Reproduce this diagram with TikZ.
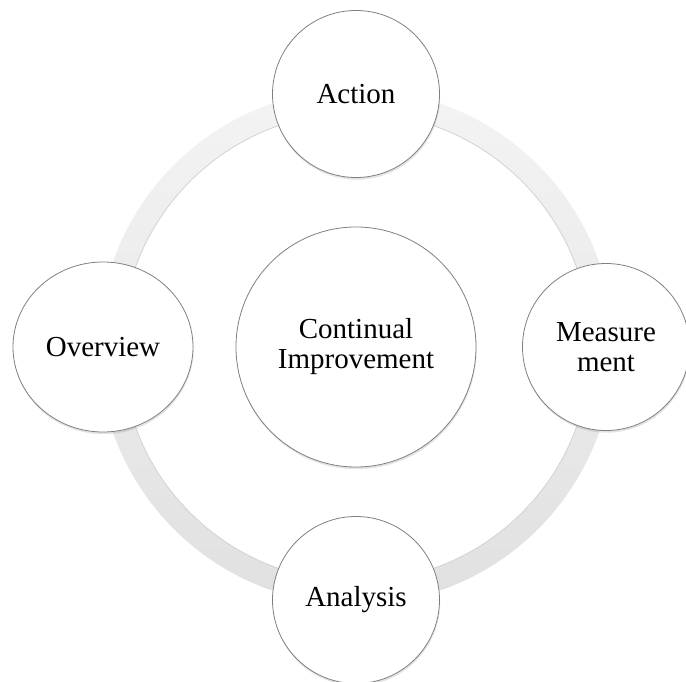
\documentclass[tikz,border=0pt]{standalone}
\usepackage{fontspec}
\setmainfont{Liberation Serif}
\usetikzlibrary{shapes.geometric,shadows}
\tikzset{
  stage/.style={circle, draw=gray, line width=0.8pt, fill=white,
    minimum size=167pt, inner sep=0pt, align=center,
    font=\fontsize{29}{30}\selectfont,
    drop shadow={opacity=0.22, shadow xshift=0.6pt, shadow yshift=-2.2pt}},
  hub/.style={stage, minimum size=240pt}
}
\begin{document}
\begin{tikzpicture}[x=1pt,y=1pt]
      \useasboundingbox (0,0) rectangle (686,681);
      \coordinate (c) at (356,334);
      % ring
      \shade[top color=gray!9, bottom color=gray!24, even odd rule]
        (c) circle (257.5pt) (c) circle (234.5pt);
      \draw[gray!35, line width=0.8pt] (c) circle (234.5pt);
      \draw
        (c) node[hub] (hub){Continual\\Improvement}
        (356,587) node[stage] (act){Action}
        (606,334) node[stage] (meas){Measure\\ment}
        (356,81) node[stage] (ana){Analysis}
        (103,334) node[stage, ellipse, minimum width=180pt, minimum height=170pt] (ovw){Overview};
    \end{tikzpicture}
\end{document}
